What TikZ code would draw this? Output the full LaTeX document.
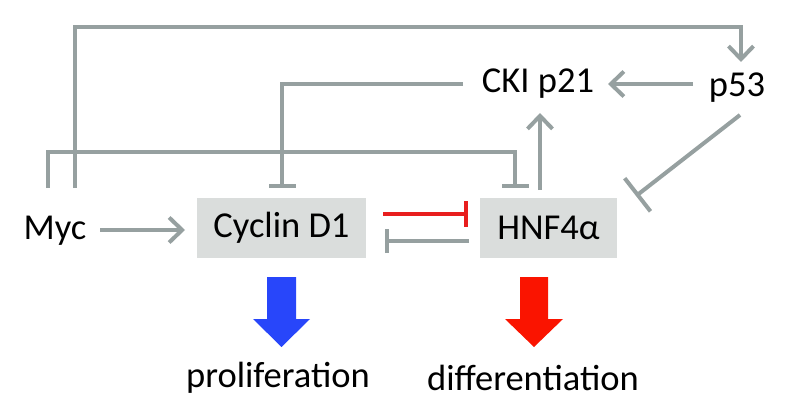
\documentclass[tikz,border=0pt]{standalone}
\usepackage{fontspec}
\setmainfont{Carlito}
\usetikzlibrary{arrows.meta,calc}
\definecolor{lg}{RGB}{150,160,160}
\definecolor{boxg}{RGB}{218,221,220}
\definecolor{ired}{RGB}{232,30,30}
\definecolor{pblue}{RGB}{40,70,250}
\definecolor{dred}{RGB}{250,20,0}
\begin{document}
\begin{tikzpicture}[x=1pt,y=-1pt,
  conn/.style={draw=lg, line width=4pt},
  act/.style={conn,-{Straight Barb[length=13pt,width=25pt]}},
  inh/.style={conn,-{Bar[width=27pt]}},
  gene/.style={fill=boxg, minimum height=60pt, inner sep=0pt, font=\fontsize{36.5}{40}\selectfont},
  lbl/.style={inner sep=0pt, font=\fontsize{36.5}{40}\selectfont}]
\useasboundingbox (0,0) rectangle (787,420);
% nodes
\node[lbl] (myc) at (55,231) {Myc};
\node[gene, minimum width=169pt] (cyc) at (281.5,228) {Cyclin D1};
\node[gene, minimum width=137pt] (hnf) at (548.5,228) {HNF4α};
\node[lbl] (cki) at (538,84) {CKI p21};
\node[lbl] (p53) at (737,88) {p53};
\node[lbl] (prol) at (278,378) {proliferation};
\node[lbl] (diff) at (533,378) {differentiation};
% coordinates
\coordinate (m1) at (48,188);
\coordinate (m2) at (75,188);
\coordinate (mycE) at (100,230);
\coordinate (cycW) at (185,230);
\coordinate (cyctop) at (282,188);
\coordinate (hnftop) at (515,188);
\coordinate (hnfup) at (540,190);
\coordinate (ckibot) at (540,113);
\coordinate (ckiW) at (463,84);
\coordinate (ckiE) at (608,84);
\coordinate (p53W) at (693,84);
\coordinate (p53top) at (741,62);
\coordinate (p53bot) at (740,115);
\coordinate (hnfNE) at (636,196);
% Myc -> Cyclin D1
\draw[act] (mycE) -- (cycW);
% Myc -| HNF4a
\draw[inh] (m1) -- (48,152) -- (515,152) -- (hnftop);
% Myc -> p53
\draw[act] (m2) -- (75,27) -- (741,27) -- (p53top);
% CKI p21 -| Cyclin D1
\draw[inh] (ckiW) -- (282,84) -- (cyctop);
% p53 -> CKI p21
\draw[act] (p53W) -- (ckiE);
% HNF4a -> CKI p21
\draw[act] (hnfup) -- (ckibot);
% p53 -| HNF4a
\draw[conn,-{Bar[width=42pt]}] (p53bot) -- (hnfNE);
% mutual inhibition
\draw[inh, draw=ired, -{Bar[width=26pt]}] (383,214) -- (468,214);
\draw[inh, -{Bar[width=24pt]}] (469,241) -- (385,241);
% fat arrows
\fill[pblue] (267,277) -- (296,277) -- (296,319) -- (310,319) -- (281.5,347) -- (253,319) -- (267,319) -- cycle;
\fill[dred] (520,277) -- (548,277) -- (548,319) -- (563,319) -- (534,347) -- (505,319) -- (520,319) -- cycle;
\end{tikzpicture}
\end{document}
